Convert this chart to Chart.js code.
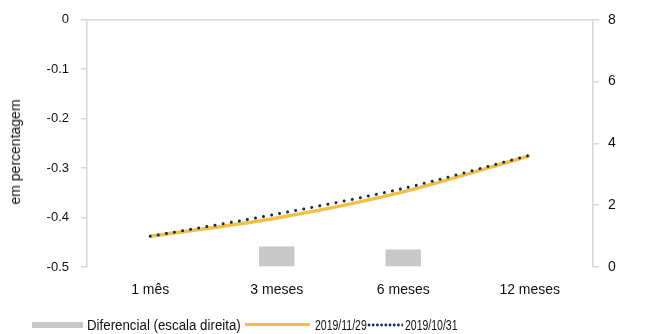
<!DOCTYPE html>
<html>
<head>
<meta charset="utf-8">
<script src="https://cdn.jsdelivr.net/npm/chart.js@4"></script>
<style>
  body { margin: 0; background: #fff; }
  #wrap { position: relative; width: 646px; height: 334px; font-family: "Liberation Sans", Arial, sans-serif; font-size: 14px; color: #111; }
  #ytitle { position: absolute; left: 15px; top: 152px; transform: translate(-50%, -50%) rotate(-90deg); white-space: nowrap; font-size: 14px; }
  .leg { position: absolute; top: 317px; height: 16px; line-height: 16px; white-space: nowrap; transform-origin: left center; }
  .sw { position: absolute; }
</style>
</head>
<body>
<div id="wrap">
  <canvas id="curveChart" width="646" height="334"></canvas>
  <div id="ytitle">em percentagem</div>
  <div class="sw" style="left:32px;top:322px;width:51px;height:6px;background:#c8c8c8"></div>
  <div class="leg" style="left:87px;transform:scaleX(0.95)">Diferencial (escala direita)</div>
  <div class="sw" style="left:245px;top:323px;width:65px;height:3px;background:#f2c043"></div>
  <div class="leg" style="left:315px;transform:scaleX(0.75)">2019/11/29</div>
  <canvas id="dotSw" class="sw" width="36" height="6" style="left:367px;top:322px"></canvas>
  <div class="leg" style="left:405px;transform:scaleX(0.75)">2019/10/31</div>
</div>
<script>
const categories = ["1 mês", "3 meses", "6 meses", "12 meses"];
const curveNov = [-0.438, -0.401, -0.348, -0.275];
const curveOct = [-0.438, -0.393, -0.341, -0.274];
const spread = [0, 0.66, 0.57, 0];
const leftTicks = [-0.5, -0.4, -0.3, -0.2, -0.1, 0];
const rightTicks = [0, 2, 4, 6, 8];

const axisColor = "#d6d6d6";
const fontFamily = '"Liberation Sans", Arial, sans-serif';

// small dotted swatch for the legend
const dctx = document.getElementById("dotSw").getContext("2d");
dctx.fillStyle = "#0b2d5b";
for (let x = 2; x < 36; x += 4.2) {
  dctx.beginPath();
  dctx.arc(x, 3, 1.4, 0, Math.PI * 2);
  dctx.fill();
}

const ctx = document.getElementById("curveChart").getContext("2d");
new Chart(ctx, {
  data: {
    labels: categories,
    datasets: [
      {
        type: "line",
        label: "2019/10/31",
        data: curveOct,
        yAxisID: "y",
        borderColor: "#0b2d5b",
        borderWidth: 3,
        borderDash: [0.01, 8.2],
        borderCapStyle: "round",
        pointRadius: 0,
        tension: 0.3,
        order: 0,
      },
      {
        type: "line",
        label: "2019/11/29",
        data: curveNov,
        yAxisID: "y",
        borderColor: "#f2c043",
        borderWidth: 3.5,
        pointRadius: 0,
        tension: 0.3,
        order: 1,
      },
      {
        type: "bar",
        label: "Diferencial (escala direita)",
        data: spread,
        yAxisID: "y1",
        backgroundColor: "#c8c8c8",
        barPercentage: 0.28,
        categoryPercentage: 1,
        order: 2,
      },
    ],
  },
  options: {
    responsive: false,
    animation: false,
    layout: { padding: { top: 16, bottom: 0, left: 0, right: 0 } },
    plugins: { legend: { display: false }, tooltip: { enabled: false } },
    scales: {
      x: {
        grid: { display: false },
        border: { display: false },
        ticks: { color: "#111", font: { family: fontFamily, size: 14 }, padding: 7, maxRotation: 0 },
        afterFit: (s) => { s.height = 67; },
      },
      y: {
        position: "left",
        min: -0.5,
        max: 0,
        afterBuildTicks: (s) => { s.ticks = leftTicks.map((v) => ({ value: v })); },
        grid: {
          color: (c) => (c.tick && c.tick.value === 0 ? axisColor : "rgba(0,0,0,0)"),
          tickColor: axisColor,
          tickLength: 6,
          lineWidth: 1.5,
        },
        border: { color: axisColor, width: 1.5 },
        ticks: {
          color: "#111",
          font: { family: fontFamily, size: 13 },
          padding: 12,
          callback: (v) => String(Math.round(v * 10) / 10),
        },
        afterFit: (s) => { s.width = 87; },
      },
      y1: {
        position: "right",
        min: 0,
        max: 8,
        afterBuildTicks: (s) => { s.ticks = rightTicks.map((v) => ({ value: v })); },
        grid: { drawOnChartArea: false, tickColor: axisColor, tickLength: 6, lineWidth: 1.5 },
        border: { color: axisColor, width: 1.5 },
        ticks: { color: "#111", font: { family: fontFamily, size: 14 }, padding: 9 },
        afterFit: (s) => { s.width = 53; },
      },
    },
  },
});
</script>
</body>
</html>
